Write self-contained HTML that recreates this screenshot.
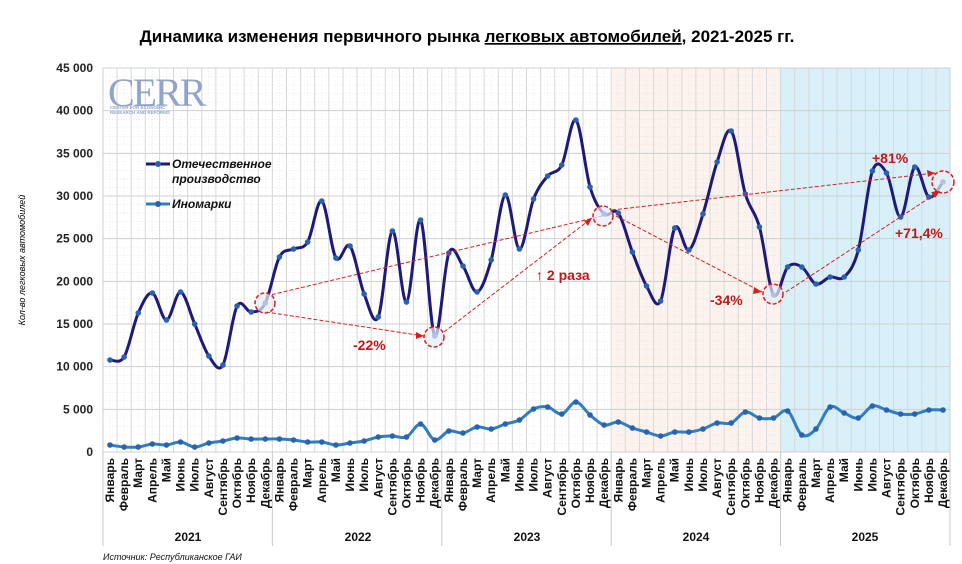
<!DOCTYPE html>
<html><head><meta charset="utf-8">
<style>
body{margin:0;background:#fff;}
svg{display:block;font-family:"Liberation Sans",Arial,sans-serif;}
</style></head>
<body>
<svg id="c" width="962" height="564" viewBox="0 0 962 564" xmlns="http://www.w3.org/2000/svg">
<rect width="962" height="564" fill="#fff"/>
<text x="467" y="42" font-size="17" font-weight="bold" text-anchor="middle" fill="#000">Динамика изменения первичного рынка <tspan text-decoration="underline">легковых автомобилей</tspan>, 2021-2025 гг.</text>
<rect x="612" y="68" width="168" height="384" fill="#fcf2ee"/>
<rect x="780" y="68" width="170" height="384" fill="#d8f0fa"/>
<g id="grid"></g>
<g id="ylab" font-size="12" font-weight="bold" text-anchor="end" fill="#222"></g>
<text transform="translate(25,260) rotate(-90)" font-size="9" font-style="italic" text-anchor="middle" fill="#000">Кол-во легковых автомобилей</text>
<g opacity="0.85">
<text x="108" y="106" font-family="Liberation Serif,serif" font-size="40" letter-spacing="-2" fill="#7f95c4">CERR</text>
<text x="110" y="109" font-size="4.5" font-weight="bold" fill="#7f95c4">CENTER FOR ECONOMIC</text>
<text x="110" y="114" font-size="4.5" font-weight="bold" fill="#7f95c4">RESEARCH AND REFORMS</text>
</g>
<g id="series"></g>
<g font-size="12" font-style="italic" font-weight="bold" fill="#111">
<line x1="146" y1="164" x2="170" y2="164" stroke="#1e1a7a" stroke-width="3"/><circle cx="158" cy="164" r="3" fill="#2a62b0"/>
<text x="172" y="168">Отечественное</text><text x="172" y="183">производство</text>
<line x1="146" y1="204" x2="170" y2="204" stroke="#2f7fc0" stroke-width="3"/><circle cx="158" cy="204" r="3" fill="#2a62b0"/>
<text x="172" y="208">Иномарки</text>
</g>
<g id="ann" fill="none" stroke="#d42020" stroke-width="1" stroke-dasharray="4,2">
<line x1="266" y1="296" x2="602" y2="216"/>
<line x1="266" y1="312" x2="424" y2="336"/>
<line x1="444" y1="332" x2="592" y2="218"/>
<line x1="616" y1="216" x2="762" y2="292"/>
<line x1="612" y1="210" x2="935" y2="173"/>
<line x1="786" y1="292" x2="940" y2="191"/>
</g>
<g fill="#e8eef6" fill-opacity="0.7" stroke="#d42020" stroke-width="1.5" stroke-dasharray="4,2">
<circle cx="265" cy="303" r="10"/><circle cx="434" cy="337" r="10"/><circle cx="603" cy="216" r="10"/><circle cx="773" cy="294" r="10"/><circle cx="943" cy="182" r="11"/>
</g>
<g fill="#d42020">
<polygon points="424,336 416,332 416,339"/><polygon points="592,218 584,221 588,226"/><polygon points="762,292 754,287 753,294"/><polygon points="935,173 927,170 928,177"/><polygon points="940,191 931,192 935,198"/>
</g>
<g font-size="14" font-weight="bold" fill="#c01818">
<text x="353" y="350">-22%</text>
<text x="536" y="280">↑ 2 раза</text>
<text x="710" y="305">-34%</text>
<text x="872" y="163">+81%</text>
<text x="895" y="238">+71,4%</text>
</g>
<g id="xlab" font-size="12" font-weight="bold" fill="#111"></g>
<g font-size="12" font-weight="bold" fill="#111" text-anchor="middle">
<text x="188" y="541">2021</text><text x="358" y="541">2022</text><text x="527" y="541">2023</text><text x="696" y="541">2024</text><text x="865" y="541">2025</text>
</g>
<text x="103" y="560" font-size="9" font-style="italic" fill="#111">Источник: Республиканское ГАИ</text>
</svg>
<script>
const NS="http://www.w3.org/2000/svg";
function el(p,t,a){const e=document.createElementNS(NS,t);for(const k in a)e.setAttribute(k,a[k]);p.appendChild(e);return e;}
const L=103,R=950,T=68,B=452;
const X=i=>110+i*(943-110)/59;
const g=document.getElementById('grid');
for(let i=0;i<=59;i++){
  const x=X(i)-7.06; el(g,'line',{x1:x,y1:T,x2:x,y2:B,stroke:'#d8d8d8','stroke-width':1});
  el(g,'line',{x1:X(i),y1:T,x2:X(i),y2:B,stroke:'#e4e4e4','stroke-width':0.6,'stroke-dasharray':'1,2'});
}
for(let v=0;v<=45000;v+=1000){
  const y=B-v*(B-T)/45000;
  if(v%5000==0) el(g,'line',{x1:L,y1:y,x2:R,y2:y,stroke:'#cfcfcf','stroke-width':1});
  else el(g,'line',{x1:L,y1:y,x2:R,y2:y,stroke:'#e2e2e2','stroke-width':0.6,'stroke-dasharray':'1,2'});
}
el(g,'rect',{x:L,y:T,width:R-L,height:B-T,fill:'none',stroke:'#d0d0d0'});
const yl=document.getElementById('ylab');
for(let v=0;v<=45000;v+=5000){const y=B-v*(B-T)/45000;const t=el(yl,'text',{x:93,y:y+4});t.textContent=v==0?'0':(v/1000)+' 000';}
const dom=[360,357,313,293,320,292,324,356,365,306,312,303,257,249,242,201,258,246,294,317,231,302,220,336,253,266,292,260,195,249,199,176,165,120,187,214,213,252,286,301,228,250,214,162,131,194,227,295,267,267,284,277,277,250,171,173,217,167,197,182];
const imp=[445,447,447,444,445,442,447,443,441,438,439,439,439,440,442,442,445,443,441,437,436,437,424,440,431,433,427,429,424,420,409,407,414,402,415,425,422,428,432,436,432,432,429,423,423,412,418,418,411,435,429,407,413,418,406,410,414,414,410,410];
function smooth(ys){let d='M'+X(0)+','+ys[0];for(let i=0;i<ys.length-1;i++){const p0=[X(Math.max(i-1,0)),ys[Math.max(i-1,0)]],p1=[X(i),ys[i]],p2=[X(i+1),ys[i+1]],p3=[X(Math.min(i+2,ys.length-1)),ys[Math.min(i+2,ys.length-1)]];const k=6;d+=` C${p1[0]+(p2[0]-p0[0])/k},${p1[1]+(p2[1]-p0[1])/k} ${p2[0]-(p3[0]-p1[0])/k},${p2[1]-(p3[1]-p1[1])/k} ${p2[0]},${p2[1]}`;}return d;}
const s=document.getElementById('series');
el(s,'path',{d:smooth(imp),fill:'none',stroke:'#2f7fc0','stroke-width':3});
imp.forEach((y,i)=>el(s,'circle',{cx:X(i),cy:y,r:2.8,fill:'#2a62b0'}));
el(s,'path',{d:smooth(dom),fill:'none',stroke:'#1e1a7a','stroke-width':3});
dom.forEach((y,i)=>el(s,'circle',{cx:X(i),cy:y,r:2.8,fill:'#2a62b0'}));
const months=['Январь','Февраль','Март','Апрель','Май','Июнь','Июль','Август','Сентябрь','Октябрь','Ноябрь','Декабрь'];
const xl=document.getElementById('xlab');
for(let i=0;i<60;i++){const x=X(i)+4;const t=el(xl,'text',{transform:`translate(${x},458) rotate(-90)`,'text-anchor':'end'});t.textContent=months[i%12];}
for(let k=0;k<=5;k++){const x=k==5?R:X(k*12)-7.06;el(g,'line',{x1:x,y1:B,x2:x,y2:546,stroke:'#c8c8c8'});}
</script>
</body></html>
